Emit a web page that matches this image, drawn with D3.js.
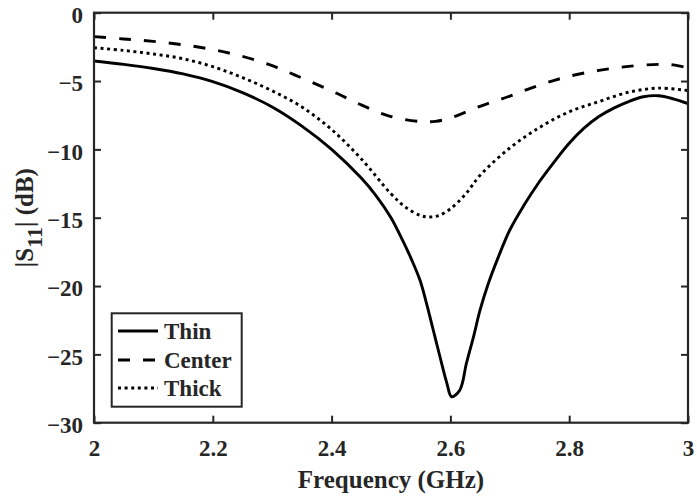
<!DOCTYPE html>
<html>
<head>
<meta charset="utf-8">
<script src="https://cdn.jsdelivr.net/npm/d3@7"></script>
<style>
  body { margin: 0; background: #fff; }
  text { font-family: "Liberation Serif", "Times New Roman", serif; font-weight: bold; fill: #262626; }
</style>
</head>
<body>
<svg id="chart" width="697" height="500"></svg>
<script>
// Reflection coefficient |S11| vs frequency for three substrate variants
const thinFreq = [2.00, 2.05, 2.10, 2.15, 2.20, 2.25, 2.30, 2.35, 2.40, 2.45, 2.475, 2.50, 2.52, 2.535, 2.549, 2.56, 2.571, 2.582, 2.594, 2.602, 2.616, 2.627, 2.639, 2.65, 2.664, 2.681, 2.70, 2.723, 2.75, 2.775, 2.80, 2.825, 2.85, 2.875, 2.90, 2.925, 2.95, 2.975, 3.00];
const thinDb   = [-3.53, -3.78, -4.08, -4.48, -5.05, -5.85, -6.9, -8.3, -10.0, -12.1, -13.4, -15.0, -16.7, -18.1, -19.6, -21.3, -23.2, -25.1, -27.1, -28.1, -27.6, -25.65, -23.7, -21.75, -19.8, -17.85, -15.9, -14.15, -12.35, -10.9, -9.55, -8.45, -7.6, -6.98, -6.5, -6.15, -6.08, -6.3, -6.65];

const centerFreq = [2.00, 2.05, 2.10, 2.15, 2.20, 2.25, 2.30, 2.35, 2.40, 2.45, 2.50, 2.55, 2.575, 2.60, 2.65, 2.70, 2.75, 2.80, 2.85, 2.90, 2.95, 2.975, 3.00];
const centerDb   = [-1.75, -1.92, -2.1, -2.35, -2.7, -3.2, -3.88, -4.78, -5.72, -6.75, -7.6, -7.97, -7.95, -7.7, -6.85, -6.1, -5.3, -4.65, -4.22, -3.93, -3.78, -3.82, -4.05];

const thickFreq = [2.00, 2.05, 2.10, 2.15, 2.20, 2.25, 2.30, 2.35, 2.40, 2.45, 2.50, 2.525, 2.55, 2.565, 2.58, 2.60, 2.625, 2.65, 2.70, 2.75, 2.80, 2.85, 2.90, 2.95, 3.00];
const thickDb   = [-2.56, -2.76, -3.02, -3.37, -3.95, -4.75, -5.72, -6.9, -8.55, -10.7, -13.25, -14.25, -14.85, -14.95, -14.85, -14.35, -13.3, -11.9, -9.9, -8.4, -7.25, -6.5, -5.82, -5.52, -5.7];

const seriesNames = ["Thin", "Center", "Thick"];
const xTicks = [2, 2.2, 2.4, 2.6, 2.8, 3];
const yTicks = [0, -5, -10, -15, -20, -25, -30];

const svg = d3.select("#chart");
const axisColor = "#262626";
const pLeft = 94, pRight = 688, pTop = 12.7, pBottom = 422.7;

const x = d3.scaleLinear().domain([2, 3]).range([pLeft, pRight]);
const y = d3.scaleLinear().domain([-30, 0]).range([pBottom, pTop]);

const series = [
  { name: seriesNames[0], f: thinFreq, v: thinDb, dash: null },
  { name: seriesNames[1], f: centerFreq, v: centerDb, dash: "12,13" },
  { name: seriesNames[2], f: thickFreq, v: thickDb, dash: "3,3.6" }
];

const line = d3.line()
  .x(d => x(d[0]))
  .y(d => y(d[1]))
  .curve(d3.curveCatmullRom.alpha(0.5));

const plot = svg.append("g");
plot.append("clipPath").attr("id", "clip")
  .append("rect").attr("x", pLeft).attr("y", pTop).attr("width", pRight - pLeft).attr("height", pBottom - pTop);

series.forEach(s => {
  plot.append("path")
    .attr("clip-path", "url(#clip)")
    .datum(s.f.map((f, i) => [f, s.v[i]]))
    .attr("d", line)
    .attr("fill", "none")
    .attr("stroke", "#000")
    .attr("stroke-width", 2.9)
    .attr("stroke-dasharray", s.dash);
});

// Box axes with inward ticks on all four sides
const tickLen = 7;
const tickFont = 23;
const axG = svg.append("g");
const styleAxis = g => {
  g.select(".domain").remove();
  g.selectAll(".tick line").attr("stroke", axisColor).attr("stroke-width", 2);
  g.selectAll(".tick text").attr("font-size", tickFont).attr("fill", axisColor);
};

axG.append("g").attr("transform", `translate(0,${pBottom})`)
  .call(d3.axisBottom(x).tickValues(xTicks).tickSize(-tickLen).tickPadding(17).tickFormat(d3.format("")))
  .call(styleAxis);
axG.append("g").attr("transform", `translate(0,${pTop})`)
  .call(d3.axisTop(x).tickValues(xTicks).tickSize(-tickLen).tickFormat(""))
  .call(styleAxis);
axG.append("g").attr("transform", `translate(${pLeft},0)`)
  .call(d3.axisLeft(y).tickValues(yTicks).tickSize(-tickLen).tickPadding(11).tickFormat(d3.format("")))
  .call(styleAxis)
  .call(g => g.selectAll(".tick text").attr("dy", "0.42em"));
axG.append("g").attr("transform", `translate(${pRight},0)`)
  .call(d3.axisRight(y).tickValues(yTicks).tickSize(-tickLen).tickFormat(""))
  .call(styleAxis);
axG.selectAll("text").attr("font-family", "'Liberation Serif', serif").attr("font-weight", "bold");

svg.append("rect")
  .attr("x", pLeft).attr("y", pTop)
  .attr("width", pRight - pLeft).attr("height", pBottom - pTop)
  .attr("fill", "none").attr("stroke", axisColor).attr("stroke-width", 2.2);

// Axis titles
svg.append("text")
  .attr("x", (pLeft + pRight) / 2).attr("y", 488)
  .attr("text-anchor", "middle").attr("font-size", 25)
  .text("Frequency (GHz)");

const yl = svg.append("text")
  .attr("transform", `translate(33,${(pTop + pBottom) / 2}) rotate(-90)`)
  .attr("text-anchor", "middle").attr("font-size", 25);
yl.append("tspan").text("|S");
yl.append("tspan").attr("dy", 9).attr("font-size", 22).text("11");
yl.append("tspan").attr("dy", -9).text("| (dB)");

// Legend
const lg = svg.append("g");
lg.append("rect")
  .attr("x", 111.7).attr("y", 313.3).attr("width", 130).attr("height", 93.4)
  .attr("fill", "#fff").attr("stroke", axisColor).attr("stroke-width", 2);
const rowY = [331, 360, 388];
series.forEach((s, i) => {
  lg.append("line")
    .attr("x1", 118).attr("x2", 158).attr("y1", rowY[i]).attr("y2", rowY[i])
    .attr("stroke", "#000").attr("stroke-width", 2.9)
    .attr("stroke-dasharray", s.dash);
  lg.append("text")
    .attr("x", 164).attr("y", rowY[i]).attr("dy", "0.35em")
    .attr("font-size", 23).attr("fill", "#000")
    .text(s.name);
});
</script>
</body>
</html>
